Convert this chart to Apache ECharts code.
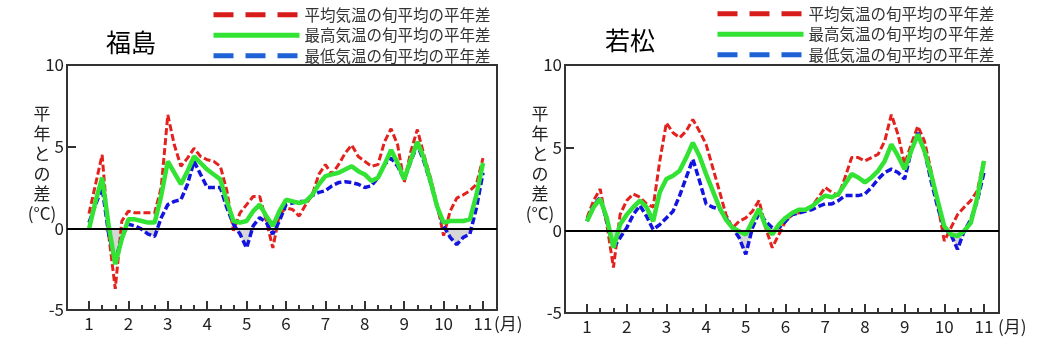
<!DOCTYPE html>
<html>
<head>
<meta charset="utf-8">
<script src="https://cdn.jsdelivr.net/npm/echarts@6/dist/echarts.min.js"></script>
<style>
  html, body { margin: 0; padding: 0; background: #fff; }
  #chart { width: 1057px; height: 352px; }
</style>
</head>
<body>
<div id="chart"></div>
<script>
  // 10-day running means, read every ~5 days (1/6 month) from 1 Jan to 1 Nov
  var stations = ['福島', '若松'];
  var seriesNames = ['平均気温の旬平均の平年差', '最高気温の旬平均の平年差', '最低気温の旬平均の平年差'];
  var monthTicks = [1, 2, 3, 4, 5, 6, 7, 8, 9, 10, 11];

  var fukushimaAvg = [0.9, 2.7, 4.5, -0.4, -3.7, 0.45, 1.05, 0.95, 0.95, 0.95,
    0.95, 2.5, 6.95, 5.1, 3.8, 4.3, 4.9, 4.4, 4.2, 4.1,
    3.8, 2.3, -0.15, 0.95, 1.45, 1.95, 1.95, 0.45, -1.2, 0.85,
    1.25, 1.15, 0.75, 1.45, 2.05, 3.3, 3.9, 3.3, 3.9, 4.6,
    5.1, 4.4, 4.1, 3.8, 3.9, 5.3, 6.1, 5.1, 2.8, 4.7,
    6.05, 4.5, 3.1, 1.45, -0.45, 1.05, 1.85, 2.05, 2.3, 2.7, 4.3];
  var fukushimaMax = [-0.05, 1.65, 3.1, 0.15, -2.2, -0.65, 0.55, 0.55, 0.45, 0.35,
    0.35, 2.0, 4.1, 3.4, 2.7, 3.5, 4.4, 4.0, 3.6, 3.3,
    3.0, 1.65, 0.45, 0.35, 0.45, 1.05, 1.45, 0.75, 0.15, 1.05,
    1.75, 1.65, 1.55, 1.65, 2.05, 2.7, 3.2, 3.3, 3.4, 3.6,
    3.8, 3.5, 3.3, 2.9, 3.1, 3.9, 4.8, 4.0, 3.0, 4.2,
    5.3, 4.3, 2.9, 1.35, 0.35, 0.45, 0.45, 0.45, 0.55, 2.05, 4.0];
  var fukushimaMin = [0.35, 1.45, 2.5, -0.35, -2.0, -0.55, 0.25, 0.15, -0.05, -0.35,
    -0.5, 0.65, 1.45, 1.65, 1.75, 2.7, 4.1, 3.3, 2.5, 2.5,
    2.5, 1.25, 0.25, -0.35, -1.2, 0.15, 0.65, 0.35, -0.35, 0.45,
    1.45, 1.55, 1.65, 1.65, 2.0, 2.2, 2.3, 2.6, 2.8, 2.85,
    2.8, 2.7, 2.5, 2.6, 3.1, 3.9, 4.3, 3.8, 3.0, 4.1,
    5.1, 4.1, 2.8, 1.35, 0.15, -0.55, -1.0, -0.55, -0.35, 1.25, 3.4];

  var wakamatsuAvg = [0.75, 1.8, 2.5, 0.35, -2.25, 0.95, 1.8, 2.2, 2.0, 1.6,
    1.4, 4.2, 6.5, 5.9, 5.6, 6.0, 6.7, 6.0, 5.2, 3.8,
    2.4, 0.95, 0.15, 0.55, 0.75, 1.15, 1.8, 0.15, -1.05, -0.25,
    0.55, 0.95, 1.05, 1.25, 1.45, 2.0, 2.6, 2.3, 2.1, 3.2,
    4.4, 4.4, 4.2, 4.4, 4.6, 5.4, 7.0, 5.8, 4.0, 5.2,
    6.3, 5.4, 3.6, 1.6, -0.65, 0.15, 0.95, 1.4, 1.8, 2.4, 4.3];
  var wakamatsuMax = [0.55, 1.4, 1.9, 0.75, -1.05, 0.35, 0.95, 1.4, 1.8, 1.4,
    0.55, 2.3, 3.1, 3.3, 3.6, 4.4, 5.3, 4.5, 3.4, 2.4,
    1.4, 0.65, 0.15, -0.05, -0.25, 0.55, 1.3, 0.25, -0.25, 0.35,
    0.75, 1.05, 1.25, 1.25, 1.45, 1.8, 2.1, 2.0, 2.2, 2.8,
    3.4, 3.2, 2.9, 3.2, 3.6, 4.2, 5.2, 4.5, 3.7, 4.8,
    5.8, 4.8, 3.4, 1.8, 0.25, -0.25, -0.35, -0.05, 0.45, 2.0, 4.2];
  var wakamatsuMin = [0.55, 1.5, 2.0, 0.55, -1.05, -0.45, 0.15, 0.95, 1.5, 0.85,
    0.05, 0.35, 0.75, 1.15, 2.1, 3.2, 4.3, 3.0, 1.6, 1.4,
    1.3, 0.75, 0.15, -0.45, -1.45, 0.15, 1.05, 0.55, 0.15, 0.15,
    0.55, 0.95, 1.05, 1.15, 1.25, 1.45, 1.6, 1.6, 1.8, 2.1,
    2.1, 2.1, 2.2, 2.6, 3.1, 3.5, 3.7, 3.5, 3.1, 4.8,
    5.9, 4.8, 3.0, 1.4, 0.15, -0.25, -1.15, -0.05, 0.65, 1.8, 3.5];

  var COL = {
    avg: '#e3221e',
    max: '#33e333',
    min: '#1414e0',
    legendAvg: '#d81c1c',
    legendMin: '#1e62d6',
    frame: '#333',
    text: '#222',
    shade: '#d6d6d6'
  };
  var FONT = '"Noto Sans CJK JP", "Noto Sans", sans-serif';

  // panel frames (pixel layout of the two plot boxes)
  var panels = [
    { left: 67, top: 65, width: 430, height: 245, xMin: 0.442, xMax: 11.355, unitX: 494, data: [fukushimaAvg, fukushimaMax, fukushimaMin] },
    { left: 565, top: 65, width: 434, height: 248, xMin: 0.446, xMax: 11.378, unitX: 998, data: [wakamatsuAvg, wakamatsuMax, wakamatsuMin] }
  ];

  // dekad ticks between month ticks
  var dekadTicks = [];
  monthTicks.slice(0, -1).forEach(function (m) {
    dekadTicks.push(m + 1 / 3, m + 2 / 3);
  });

  function pairs(values) {
    return values.map(function (v, i) { return [1 + i / 6, v]; });
  }

  var grids = [], xAxes = [], yAxes = [], series = [];
  panels.forEach(function (p, gi) {
    grids.push({
      left: p.left, top: p.top, width: p.width, height: p.height,
      show: true, borderColor: COL.frame, borderWidth: 2
    });
    xAxes.push({
      gridIndex: gi, type: 'value', min: p.xMin, max: p.xMax, position: 'bottom',
      axisLine: { show: false, onZero: false }, splitLine: { show: false },
      axisTick: { inside: true, length: 9, customValues: monthTicks, lineStyle: { color: COL.frame, width: 2 } },
      axisLabel: { customValues: monthTicks, margin: 5, fontSize: 17, color: COL.text, fontFamily: FONT }
    });
    xAxes.push({
      gridIndex: gi, type: 'value', min: p.xMin, max: p.xMax, position: 'bottom',
      axisLine: { show: false, onZero: false }, splitLine: { show: false },
      axisTick: { inside: true, length: 5, customValues: dekadTicks, lineStyle: { color: COL.frame, width: 2 } },
      axisLabel: { show: false }
    });
    yAxes.push({
      gridIndex: gi, type: 'value', min: -5, max: 10, interval: 5,
      axisLine: { show: false, onZero: false }, splitLine: { show: false },
      axisTick: { show: true, inside: true, length: 9, lineStyle: { color: COL.frame, width: 2 } },
      axisLabel: { margin: 3, fontSize: 17, color: COL.text, fontFamily: FONT }
    });

    var avg = p.data[0], max = p.data[1], min = p.data[2];
    series.push({
      type: 'line', xAxisIndex: gi * 2, yAxisIndex: gi, silent: true,
      data: pairs(min.map(function (v) { return Math.min(v, 0); })),
      symbol: 'none', lineStyle: { opacity: 0 },
      areaStyle: { color: COL.shade, opacity: 1 },
      markLine: {
        silent: true, symbol: ['none', 'none'], label: { show: false },
        lineStyle: { color: '#000', width: 2, type: 'solid' },
        data: [{ yAxis: 0 }]
      }
    });
    series.push({
      name: seriesNames[0], type: 'line', xAxisIndex: gi * 2, yAxisIndex: gi,
      data: pairs(avg), symbol: 'none',
      lineStyle: { color: COL.avg, width: 3, type: [7, 3] }, itemStyle: { color: COL.avg }
    });
    series.push({
      name: seriesNames[2], type: 'line', xAxisIndex: gi * 2, yAxisIndex: gi,
      data: pairs(min), symbol: 'none',
      lineStyle: { color: COL.min, width: 3.5, type: [7, 3] }, itemStyle: { color: COL.min }
    });
    series.push({
      name: seriesNames[1], type: 'line', xAxisIndex: gi * 2, yAxisIndex: gi,
      data: pairs(max), symbol: 'none',
      lineStyle: { color: COL.max, width: 4.5 }, itemStyle: { color: COL.max }
    });
  });

  function legendAt(left, top) {
    var noDot = { opacity: 0, borderWidth: 0 };
    return {
      left: left, top: top, orient: 'vertical', padding: 0,
      itemWidth: 86, itemHeight: 14, itemGap: 5, selectedMode: false,
      textStyle: { fontSize: 15.5, color: '#333', fontFamily: FONT },
      data: [
        { name: seriesNames[0], itemStyle: noDot, lineStyle: { color: COL.legendAvg, width: 5, type: [20, 12] } },
        { name: seriesNames[1], itemStyle: noDot, lineStyle: { color: COL.max, width: 5, type: 'solid' } },
        { name: seriesNames[2], itemStyle: noDot, lineStyle: { color: COL.legendMin, width: 5, type: [20, 12] } }
      ]
    };
  }

  function plainText(x, y, text, size, align, vAlign) {
    return {
      type: 'text', x: x, y: y, silent: true,
      style: { text: text, fontSize: size, fontFamily: FONT, fill: '#000', align: align, verticalAlign: vAlign }
    };
  }

  function unitText(x) {
    return {
      type: 'text', x: x, y: 104, silent: true,
      style: {
        text: '平\n年\nと\nの\n差\n(°C)', fontSize: 17, lineHeight: 20, fontFamily: FONT,
        fill: COL.text, align: 'center', verticalAlign: 'top'
      }
    };
  }

  var graphics = [
    plainText(131, 42, stations[0], 25, 'center', 'middle'),
    plainText(630, 40, stations[1], 25, 'center', 'middle'),
    unitText(42),
    unitText(540)
  ];
  panels.forEach(function (p) {
    var g = plainText(p.unitX, p.top + p.height + 14, '(月)', 17, 'left', 'middle');
    g.style.fill = COL.text;
    graphics.push(g);
  });

  var chart = echarts.init(document.getElementById('chart'), null, { renderer: 'canvas' });
  chart.setOption({
    backgroundColor: '#fff',
    animation: false,
    grid: grids,
    xAxis: xAxes,
    yAxis: yAxes,
    legend: [legendAt(211, 7), legendAt(715, 6)],
    graphic: graphics,
    series: series
  });
</script>
</body>
</html>
